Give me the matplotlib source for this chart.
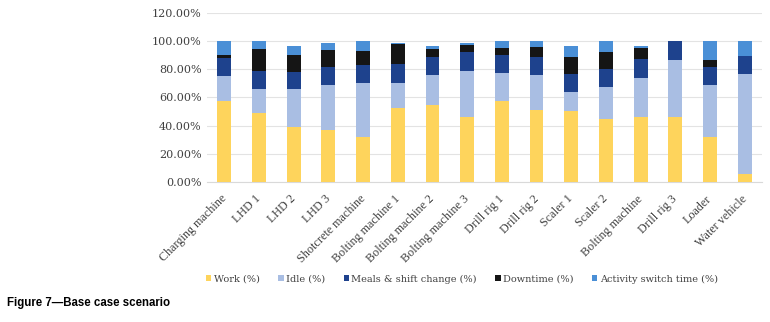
import numpy as np
import matplotlib.pyplot as plt
import matplotlib.transforms as mtransforms
from matplotlib.ticker import FuncFormatter

machines = ['Charging machine', 'LHD 1', 'LHD 2', 'LHD 3', 'Shotcrete machine',
            'Bolting machine 1', 'Bolting machine 2', 'Bolting machine 3',
            'Drill rig 1', 'Drill rig 2', 'Scaler 1', 'Scaler 2',
            'Bolting machine', 'Drill rig 3', 'Loader', 'Water vehicle']

# shares of time (%)
work     = [57.7, 48.7, 39.2, 36.9, 32.1, 52.2, 54.6, 46.3, 57.7, 51.1, 50.4, 44.7, 46.1, 46.3, 32.1, 5.7]
idle     = [17.5, 17.0, 26.5, 31.7, 37.9, 18.2, 21.3, 32.6, 19.6, 24.6, 13.2, 22.5, 27.7, 40.0, 36.5, 71.1]
meals    = [13.0, 13.0, 12.5, 13.0, 13.2, 13.3, 13.0, 13.3, 13.2, 13.0, 13.0, 12.7, 13.2, 13.7, 13.0, 12.8]
downtime = [1.8, 15.4, 12.3, 11.8, 9.7, 14.6, 5.4, 5.2, 4.3, 7.5, 12.1, 12.5, 7.8, 0.0, 4.9, 0.0]
switch   = [10.0, 5.9, 6.2, 5.6, 7.1, 0.4, 2.2, 1.4, 5.2, 3.8, 8.0, 7.6, 1.7, 0.0, 13.5, 10.4]

series = [('Work (%)', work, '#fed45c'),
          ('Idle (%)', idle, '#a9bee3'),
          ('Meals & shift change (%)', meals, '#1e428d'),
          ('Downtime (%)', downtime, '#151515'),
          ('Activity switch time (%)', switch, '#4a8fd6')]

fig = plt.figure(figsize=(7.7, 3.22), dpi=100)
ax = fig.add_axes([207/770, 1 - 182/322, 555/770, 169/322])

x = np.arange(len(machines))
bottom = np.zeros(len(machines))
for name, vals, col in series:
    ax.bar(x, vals, 0.4, bottom=bottom, color=col, label=name, zorder=3)
    bottom += np.array(vals)

ax.set_xlim(-0.5, len(machines) - 0.5)
ax.set_ylim(0, 120)
ax.set_yticks(np.arange(0, 121, 20))
ax.yaxis.set_major_formatter(FuncFormatter(lambda v, p: '%.2f%%' % v))
ax.grid(axis='y', color='#e3e3e3', lw=0.8, zorder=0)
for s in ['top', 'right', 'left']:
    ax.spines[s].set_visible(False)
ax.spines['bottom'].set_color('#d9d9d9')
ax.tick_params(axis='both', length=0, labelcolor='#404040')
ax.tick_params(axis='y', pad=4)
ax.set_xticks(x)
ax.set_xticklabels(machines, rotation=45, ha='right', rotation_mode='anchor')
shift = mtransforms.ScaledTranslation(-4/100, -6/100, fig.dpi_scale_trans)
for lab in ax.get_xticklabels():
    lab.set_family('Liberation Serif')
    lab.set_fontsize(8.7)
    lab.set_transform(lab.get_transform() + shift)
for lab in ax.get_yticklabels():
    lab.set_family('DejaVu Serif')
    lab.set_fontsize(8)

leg = fig.legend(loc='center', bbox_to_anchor=(462/770, 1 - 279/322), ncol=5,
                 frameon=False, handlelength=0.55, handleheight=0.55,
                 handletextpad=0.25, columnspacing=1.9,
                 prop={'family': 'DejaVu Serif', 'size': 7})
for t in leg.get_texts():
    t.set_color('#404040')

fig.text(7/770, 1 - 303/322, 'Figure 7\u2014Base case scenario', fontsize=8.3,
         fontweight='bold', family='Liberation Sans', va='center')

fig.savefig('out.png', dpi=100)
